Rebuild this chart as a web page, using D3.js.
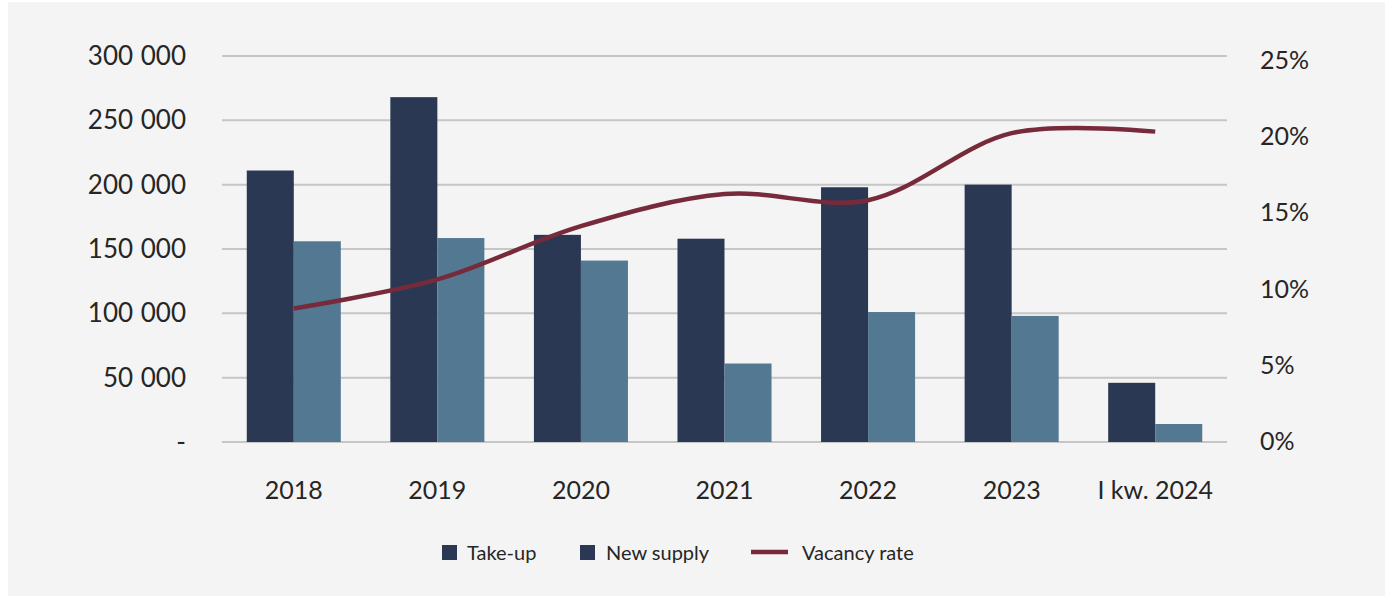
<!DOCTYPE html>
<html>
<head>
<meta charset="utf-8">
<script src="https://cdn.jsdelivr.net/npm/d3@7"></script>
<style>
	body { margin: 0; background: #fff; }
	text { font-family: Lato, "Open Sans", sans-serif; fill: #262626; }
</style>
</head>
<body>
<div id="chart"></div>
<script>
// ===== データ =====
const categories = ['2018', '2019', '2020', '2021', '2022', '2023', 'I kw. 2024'];
const takeUp = [211000, 268000, 161000, 158000, 198000, 200000, 46000];
const newSupply = [156000, 158500, 141000, 61000, 101000, 98000, 14000];
const vacancyRate = [8.7, 10.6, 14.1, 16.2, 15.8, 20.2, 20.3];
const leftTicks = [0, 50000, 100000, 150000, 200000, 250000, 300000];
const rightTicks = [0, 5, 10, 15, 20, 25];

const width = 1391, height = 600;
const colors = { takeUp: '#2b3854', newSupply: '#537892', vacancy: '#772a3a' };

const svg = d3.select('#chart').append('svg')
	.attr('width', width)
	.attr('height', height);

// 背景パネル
svg.append('rect')
	.attr('x', 8).attr('y', 2)
	.attr('width', 1377).attr('height', 594)
	.attr('fill', '#f4f4f4');

// ===== スケール =====
const x = d3.scaleBand()
	.domain(categories)
	.range([222, 1227])
	.paddingInner(0.345)
	.paddingOuter(0.1725);

const xSub = d3.scaleBand()
	.domain(['takeUp', 'newSupply'])
	.range([0, x.bandwidth()]);

const yLeft = d3.scaleLinear().domain([0, 300000]).range([442, 56]);
const yRight = d3.scaleLinear().domain([0, 25]).range([441, 60]);

// ===== グリッド線 =====
svg.append('g')
	.selectAll('line')
	.data(leftTicks)
	.enter()
	.append('line')
	.attr('x1', 222).attr('x2', 1227)
	.attr('y1', d => yLeft(d)).attr('y2', d => yLeft(d))
	.attr('stroke', '#c6c6c6')
	.attr('stroke-width', 2);

// ===== 左軸ラベル =====
const fmt = d => d === 0 ? '-' : d3.format(',')(d).replace(/,/g, ' ');
svg.append('g')
	.selectAll('text')
	.data(leftTicks)
	.enter()
	.append('text')
	.attr('x', 186)
	.attr('y', d => yLeft(d) + 9)
	.attr('text-anchor', 'end')
	.attr('font-size', '26px')
	.attr('word-spacing', '1px')
	.text(fmt);

// ===== 右軸ラベル =====
svg.append('g')
	.selectAll('text')
	.data(rightTicks)
	.enter()
	.append('text')
	.attr('x', 1260)
	.attr('y', d => yRight(d) + 9)
	.attr('font-size', '25px')
	.text(d => d + '%');

// ===== 棒グラフ =====
const groups = svg.append('g')
	.selectAll('g')
	.data(categories)
	.enter()
	.append('g')
	.attr('transform', d => `translate(${x(d)},0)`);

groups.append('rect')
	.attr('x', xSub('takeUp'))
	.attr('width', xSub.bandwidth())
	.attr('y', (d, i) => yLeft(takeUp[i]))
	.attr('height', (d, i) => yLeft(0) - yLeft(takeUp[i]))
	.attr('fill', colors.takeUp);

groups.append('rect')
	.attr('x', xSub('newSupply'))
	.attr('width', xSub.bandwidth())
	.attr('y', (d, i) => yLeft(newSupply[i]))
	.attr('height', (d, i) => yLeft(0) - yLeft(newSupply[i]))
	.attr('fill', colors.newSupply);

// ===== 空室率ライン =====
const line = d3.line()
	.x((d, i) => x(categories[i]) + x.bandwidth() / 2)
	.y(d => yRight(d))
	.curve(d3.curveCatmullRom.alpha(0.5));

svg.append('path')
	.datum(vacancyRate)
	.attr('d', line)
	.attr('fill', 'none')
	.attr('stroke', colors.vacancy)
	.attr('stroke-width', 4.5);

// ===== X軸ラベル =====
svg.append('g')
	.selectAll('text')
	.data(categories)
	.enter()
	.append('text')
	.attr('x', d => x(d) + x.bandwidth() / 2)
	.attr('y', 499)
	.attr('text-anchor', 'middle')
	.attr('font-size', '25px')
	.text(d => d);

// ===== 凡例 =====
const legend = svg.append('g');
legend.append('rect').attr('x', 442).attr('y', 545).attr('width', 15).attr('height', 15).attr('fill', colors.takeUp);
legend.append('text').attr('x', 467).attr('y', 560).attr('font-size', '20px').text('Take-up');
legend.append('rect').attr('x', 580).attr('y', 545).attr('width', 15).attr('height', 15).attr('fill', colors.takeUp);
legend.append('text').attr('x', 606).attr('y', 560).attr('font-size', '20px').text('New supply');
legend.append('line').attr('x1', 751).attr('x2', 788).attr('y1', 552).attr('y2', 552)
	.attr('stroke', colors.vacancy).attr('stroke-width', 4.5);
legend.append('text').attr('x', 802).attr('y', 560).attr('font-size', '20px').text('Vacancy rate');
</script>
</body>
</html>
